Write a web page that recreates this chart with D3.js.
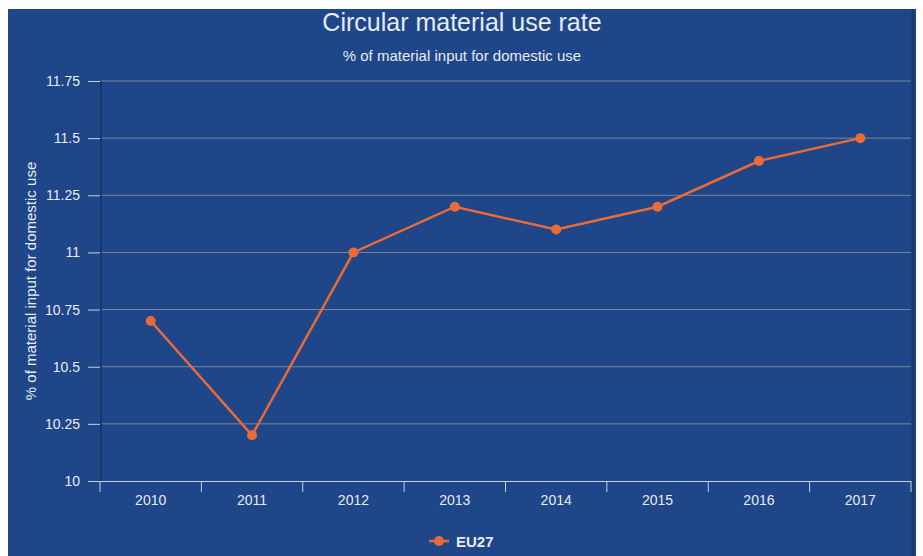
<!DOCTYPE html>
<html>
<head>
<meta charset="utf-8">
<script src="https://cdn.jsdelivr.net/npm/d3@7"></script>
<style>
  html, body { margin: 0; padding: 0; background: #fff; }
  svg { display: block; font-family: "Liberation Sans", Arial, Helvetica, sans-serif; }
</style>
</head>
<body>
<svg id="chart" width="923" height="556"></svg>
<script>
// Circular material use rate, EU27
const years = ["2010", "2011", "2012", "2013", "2014", "2015", "2016", "2017"];
const eu27 = [10.7, 10.2, 11.0, 11.2, 11.1, 11.2, 11.4, 11.5];
const yTicks = [10, 10.25, 10.5, 10.75, 11, 11.25, 11.5, 11.75];
const seriesName = "EU27";
const titleText = "Circular material use rate";
const subtitleText = "% of material input for domestic use";
const yAxisTitle = "% of material input for domestic use";

const bg = "#1e4688";
const lineColor = "#ea6b37";
const textColor = "#e8ebf1";

const svg = d3.select("#chart");

// panel
svg.append("rect").attr("x", 8).attr("y", 9).attr("width", 908).attr("height", 547).attr("fill", bg);

const plot = { left: 100, right: 911, top: 81, bottom: 481 };

const x = d3.scaleBand().domain(years).range([plot.left, plot.right]);
const y = d3.scaleLinear().domain([10, 11.75]).range([plot.bottom, plot.top]);

// gridlines
svg.append("g").selectAll("line").data(yTicks.slice(1)).join("line")
  .attr("x1", plot.left).attr("x2", plot.right)
  .attr("y1", d => y(d)).attr("y2", d => y(d))
  .attr("stroke", "#7d8796").attr("stroke-width", 1);

// shaded plot edges
svg.append("line").attr("x1", plot.left + 1).attr("x2", plot.left + 1)
  .attr("y1", plot.top).attr("y2", plot.bottom)
  .attr("stroke", "#17345f").attr("stroke-width", 2).attr("opacity", 0.8);
svg.append("line").attr("x1", plot.right + 2).attr("x2", plot.right + 2)
  .attr("y1", 9).attr("y2", 556)
  .attr("stroke", "#17345f").attr("stroke-width", 3).attr("opacity", 0.6);

// y axis
const yAxis = svg.append("g").attr("transform", `translate(${plot.left},0)`)
  .call(d3.axisLeft(y).tickValues(yTicks).tickSize(12).tickPadding(8).tickFormat(d => String(d)));
yAxis.select(".domain").remove();
yAxis.selectAll(".tick line").attr("stroke", "#c9d0dc");
yAxis.selectAll(".tick text").attr("fill", textColor).attr("font-size", 14);

// x axis
const xAxis = svg.append("g").attr("transform", `translate(0,${plot.bottom})`)
  .call(d3.axisBottom(x).tickSize(0).tickPadding(14));
xAxis.select(".domain").attr("stroke", "#c9d0dc").attr("d", `M${plot.left - 12},0.5H${plot.right}`);
xAxis.selectAll(".tick text").attr("fill", textColor).attr("font-size", 14);
const bounds = years.map(d => x(d)).concat([plot.right]);
svg.append("g").selectAll("line").data(bounds).join("line")
  .attr("x1", d => d).attr("x2", d => d)
  .attr("y1", plot.bottom).attr("y2", plot.bottom + 11)
  .attr("stroke", "#c9d0dc");

// series line and markers
const cx = d => x(d) + x.bandwidth() / 2;
const data = years.map((yr, i) => ({ yr, v: eu27[i] }));
svg.append("path").datum(data)
  .attr("fill", "none").attr("stroke", lineColor).attr("stroke-width", 2.5)
  .attr("d", d3.line().x(d => cx(d.yr)).y(d => y(d.v)));
svg.append("g").selectAll("circle").data(data).join("circle")
  .attr("cx", d => cx(d.yr)).attr("cy", d => y(d.v)).attr("r", 5)
  .attr("fill", lineColor);

// titles
svg.append("text").attr("x", 462).attr("y", 31).attr("text-anchor", "middle")
  .attr("fill", textColor).attr("font-size", 25).text(titleText);
svg.append("text").attr("x", 462).attr("y", 61).attr("text-anchor", "middle")
  .attr("fill", textColor).attr("font-size", 15).text(subtitleText);
svg.append("text").attr("transform", `translate(36,${(plot.top + plot.bottom) / 2}) rotate(-90)`)
  .attr("text-anchor", "middle").attr("fill", textColor).attr("font-size", 15).text(yAxisTitle);

// legend
const lg = svg.append("g").attr("transform", "translate(429,541)");
lg.append("line").attr("x1", 0).attr("x2", 20).attr("y1", 0).attr("y2", 0)
  .attr("stroke", lineColor).attr("stroke-width", 2.5);
lg.append("circle").attr("cx", 10).attr("cy", 0).attr("r", 5).attr("fill", lineColor);
lg.append("text").attr("x", 27).attr("y", 5.5).attr("fill", textColor)
  .attr("font-size", 15).attr("font-weight", "bold").text(seriesName);
</script>
</body>
</html>
